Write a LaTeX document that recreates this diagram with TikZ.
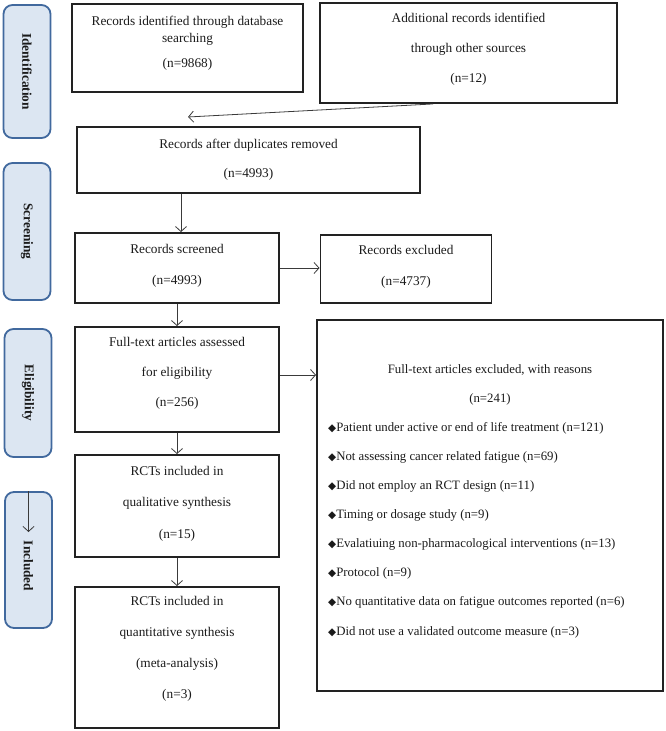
\documentclass[tikz,border=0pt]{standalone}
\usepackage{fontspec}
\setmainfont{Liberation Serif}
\newfontfamily\symfont{DejaVu Sans}
\usetikzlibrary{arrows.meta}
\definecolor{barfill}{HTML}{DCE6F2}
\definecolor{barline}{HTML}{41699E}
\definecolor{arrcol}{HTML}{3A3A3A}
\definecolor{boxline}{HTML}{222222}
\definecolor{txt}{HTML}{1A1A1A}
\newcommand\dia{{\symfont\fontsize{10.5}{10}\selectfont ◆}}
\begin{document}
\begin{tikzpicture}[x=1pt,y=-1pt,
 box/.style={draw=boxline,line width=1.9pt,inner sep=0pt},
 phase/.style={draw=barline,fill=barfill,line width=1.8pt,rounded corners=9pt,inner sep=0pt,minimum width=47pt},
 lbl/.style={font=\fontsize{13.3}{30}\selectfont,text=txt,align=center,inner sep=0pt},
 plbl/.style={font=\bfseries\fontsize{13.3}{16}\selectfont,rotate=-90,text=txt,inner sep=0pt},
 arr/.style={draw=arrcol,line width=0.8pt,-{Straight Barb[length=5pt,width=11pt]}}]
\useasboundingbox (0,0) rectangle (666,731);
% phase bars
\node[phase,minimum height=133pt] (pid) at (27,71.5) {};
\node[phase,minimum height=137pt] (psc) at (27,231.5) {};
\node[phase,minimum height=128pt] (pel) at (28,393) {};
\node[phase,minimum height=136pt] (pin) at (28.5,560) {};
\node[plbl] (lid) at (pid.center) {Identification};
\node[plbl] (lsc) at (psc.center) {Screening};
\node[plbl] (lel) at (pel.center) {Eligibility};
\node[plbl] (lin) at (28.5,566) {Included};
\coordinate (incend) at (28.5,532);
\draw[arr] (pin.north) -- (incend);
% boxes
\node[box,minimum width=231pt,minimum height=88pt] (b1) at (187.5,48) {};
\node[box,minimum width=297pt,minimum height=100pt] (b2) at (468.5,53) {};
\node[box,minimum width=343pt,minimum height=66pt] (b3) at (248.5,160) {};
\node[box,minimum width=204pt,minimum height=70pt] (b4) at (177,268) {};
\node[box,minimum width=171pt,minimum height=68pt] (b5) at (406,269) {};
\node[box,minimum width=204pt,minimum height=105pt] (b6) at (177,379.5) {};
\node[box,minimum width=204pt,minimum height=102pt] (b7) at (177,506) {};
\node[box,minimum width=204pt,minimum height=141pt] (b8) at (177,657.5) {};
\node[box,minimum width=346pt,minimum height=371pt] (big) at (490,505.5) {};
% texts
\node[lbl,font=\fontsize{13.3}{17}\selectfont] (t1) at (187.5,43.5) {Records identified through database\\searching\\[8pt](n=9868)};
\node[lbl] (t2) at (468.5,49.5) {Additional records identified\\through other sources\\(n=12)};
\node[lbl,font=\fontsize{13.3}{29.5}\selectfont] (t3) at (248.5,159.5) {Records after duplicates removed\\(n=4993)};
\node[lbl,font=\fontsize{13.3}{31}\selectfont] (t4) at (177,265.5) {Records screened\\(n=4993)};
\node[lbl,font=\fontsize{13.3}{31}\selectfont] (t5) at (406,266.5) {Records excluded\\(n=4737)};
\node[lbl] (t6) at (177,373.5) {Full-text articles assessed\\for eligibility\\(n=256)};
\node[lbl,font=\fontsize{13.3}{31.5}\selectfont] (t7) at (177,503.5) {RCTs included in\\qualitative synthesis\\(n=15)};
\node[lbl,font=\fontsize{13.3}{31}\selectfont] (t8) at (177,649) {RCTs included in\\quantitative synthesis\\(meta-analysis)\\(n=3)};
\node[lbl,font=\fontsize{12.8}{29}\selectfont] (t9) at (490,384.5) {Full-text articles excluded, with reasons\\(n=241)};
\node[lbl,font=\fontsize{12.8}{29.1}\selectfont,align=left,anchor=west] (t10) at (328,530) {%
\dia Patient under active or end of life treatment (n=121)\\
\dia Not assessing cancer related fatigue (n=69)\\
\dia Did not employ an RCT design (n=11)\\
\dia Timing or dosage study (n=9)\\
\dia Evalatiuing non-pharmacological interventions (n=13)\\
\dia Protocol (n=9)\\
\dia No quantitative data on fatigue outcomes reported (n=6)\\
\dia Did not use a validated outcome measure (n=3)};
% connectors
\coordinate (a1e) at (188,117);
\draw[arr] ([xshift=-35.5pt]b2.south) -- (a1e);
\coordinate (a2x) at (181,0);
\draw[arr] (b3.south -| a2x) -- (b4.north -| a2x);
\draw[arr] (b4.east) -- (b5.west |- b4.east);
\draw[arr] (b4.south) -- (b6.north);
\coordinate (a6s) at ([yshift=4.5pt]b6.east);
\draw[arr] (a6s) -- (a6s -| big.west);
\draw[arr] (b6.south) -- (b7.north);
\draw[arr] (b7.south) -- (b8.north);
\end{tikzpicture}
\end{document}
